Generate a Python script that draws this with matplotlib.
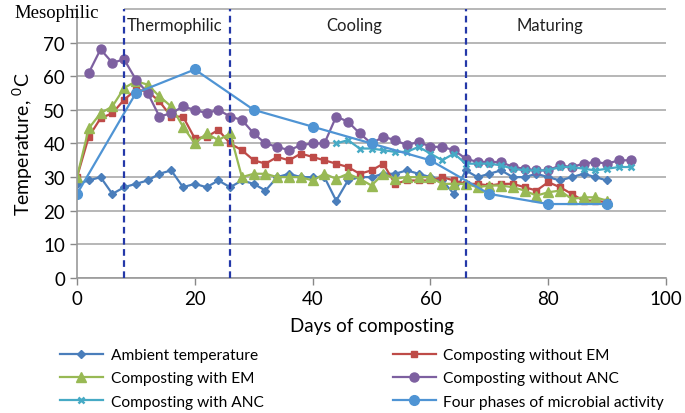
import matplotlib
matplotlib.use('Agg')
import matplotlib.pyplot as plt
import numpy as np

# temperature profiles
days_amb = [0, 2, 4, 6, 8, 10, 12, 14, 16, 18, 20, 22, 24, 26, 28, 30, 32, 34, 36, 38, 40, 42, 44, 46,
            48, 50, 52, 54, 56, 58, 60, 62, 64, 66, 68, 70, 72, 74, 76, 78, 80, 82, 84, 86, 88, 90]
ambient = [28, 29, 30, 25, 27, 28, 29, 31, 32, 27, 28, 27, 29, 27, 29, 28, 26, 30, 31, 30, 30, 30, 23, 29,
           30, 30, 31, 31, 32, 31, 30, 29, 25, 32, 30, 31, 32, 30, 30, 31, 30, 29, 30, 31, 30, 29]

days_em = [0, 2, 4, 6, 8, 10, 12, 14, 16, 18, 20, 22, 24, 26, 28, 30, 32, 34, 36, 38, 40, 42, 44, 46,
           48, 50, 52, 54, 56, 58, 60, 62, 64, 66, 68, 70, 72, 74, 76, 78, 80, 82, 84, 86, 88, 90]
without_em = [30, 42, 47.5, 49, 53, 56, 55.5, 52.5, 48, 48, 41.5, 42, 44, 40, 38, 35, 34, 36, 35, 37, 36, 35, 34, 33,
              31, 32, 34, 28, 29, 29, 29, 30, 29, 28, 28, 27.5, 28, 28, 27, 26, 28.5, 27, 25, 23, 23, 22.5]
with_em = [30, 44.5, 49, 51, 56.5, 58.5, 57.5, 54, 51, 45, 40, 43, 41, 43, 30, 31, 31, 30, 30, 30, 29, 31, 29.5, 31,
           29.5, 27.5, 31, 29.5, 30, 30, 30, 28, 28, 28, 27, 27.5, 27.5, 27, 26, 24.5, 25.5, 26, 23.5, 24, 24, 23]

days_noanc = [2, 4, 6, 8, 10, 12, 14, 16, 18, 20, 22, 24, 26, 28, 30, 32, 34, 36, 38, 40, 42, 44, 46, 48,
              50, 52, 54, 56, 58, 60, 62, 64, 66, 68, 70, 72, 74, 76, 78, 80, 82, 84, 86, 88, 90, 92, 94]
without_anc = [61, 68, 64, 65, 59, 55, 48, 49, 51, 50, 49, 50, 48, 47, 43, 40, 39, 38, 39.5, 40, 40, 48, 46.5, 43,
               40, 42, 41, 39.5, 40.5, 39, 39, 38, 35.5, 34.5, 34.5, 34.5, 33, 32.5, 32, 32, 33.5, 33, 34, 34.5, 34, 35, 35]

days_anc = [44, 46, 48, 50, 52, 54, 56, 58, 60, 62, 64, 66, 68, 70, 72, 74, 76, 78, 80, 82, 84, 86, 88, 90, 92, 94]
with_anc = [40, 41, 38.5, 38.5, 38, 37.5, 37.5, 39, 37, 35, 37, 34, 34, 34, 33.5, 32.5, 32, 32, 32, 33, 33, 32.5,
            32, 32.5, 33, 33]

days_phase = [0, 10, 20, 30, 40, 50, 60, 70, 80, 90]
phases = [25, 55, 62, 50, 45, 40, 35, 25, 22, 22]

phase_bounds = [8, 26, 66]
phase_names = ['Thermophilic', 'Cooling', 'Maturing']
phase_x = [8.4, 47, 80.3]

plt.rcParams['font.family'] = ['Lato', 'DejaVu Sans']
plt.rcParams['mathtext.fontset'] = 'custom'
plt.rcParams['mathtext.rm'] = 'Lato'

fig = plt.figure(figsize=(6.85, 4.14), dpi=100)
ax = fig.add_axes([0.1124, 0.326, 0.8599, 0.650])

lw = 1.6
h1, = ax.plot(days_amb, ambient, color='#4A7EBB', marker='D', ms=4.5, lw=lw, label='Ambient temperature')
h2, = ax.plot(days_em, without_em, color='#BE4B48', marker='s', ms=5, lw=lw, label='Composting without EM')
h3, = ax.plot(days_em, with_em, color='#98B954', marker='^', ms=6.5, lw=lw, label='Composting with EM')
h4, = ax.plot(days_noanc, without_anc, color='#7D60A0', marker='o', ms=6.5, lw=lw, label='Composting without ANC')
h5, = ax.plot(days_anc, with_anc, color='#46AAC5', marker='x', ms=5, mew=1.8, lw=lw, label='Composting with ANC')
h6, = ax.plot(days_phase, phases, color='#4F94D4', marker='o', ms=7, lw=lw, label='Four phases of microbial activity')

for b in phase_bounds:
    ax.axvline(b, color='#2438A8', ls=(0, (3, 2)), lw=1.6, zorder=5)
for name, xp in zip(phase_names, phase_x):
    ax.text(xp, 75.3, name, fontsize=12, ha='left' if name == 'Thermophilic' else 'center',
            va='center', color='#222222')
fig.text(0.0204, 0.967, 'Mesophilic', fontsize=13.5, family='Liberation Serif', ha='left', va='center')

ax.set_xlim(0, 100)
ax.set_ylim(0, 80)
ax.set_xticks(range(0, 101, 20))
ax.set_yticks(range(0, 81, 10))
ax.set_yticklabels([str(v) for v in range(0, 71, 10)] + [''])
ax.tick_params(labelsize=13.5, colors='#888888', labelcolor='black', length=5, width=1)
ax.tick_params(axis='y', direction='out')
ax.grid(axis='y', color='#AAAAAA', lw=1.2)
ax.get_ygridlines()[-1].set_visible(False)
ax.hlines(80, phase_bounds[0], 100, color='#AAAAAA', lw=1.2, clip_on=False, zorder=0.5)
ax.set_axisbelow(True)
for s in ['top', 'right']:
    ax.spines[s].set_visible(False)
for s in ['left', 'bottom']:
    ax.spines[s].set_color('#999999')
    ax.spines[s].set_linewidth(1.2)

ax.set_xlabel('Days of composting', fontsize=13.5, labelpad=7)
ax.set_ylabel('Temperature, $^{0}$C', fontsize=14, labelpad=6)

order = [h1, h3, h5, h2, h4, h6]
fig.legend(order, [h.get_label() for h in order],
           loc='upper left', bbox_to_anchor=(0.0785, 0.172), ncol=2, frameon=False,
           fontsize=11.2, handlelength=2.76, handletextpad=0.5, columnspacing=8.3,
           labelspacing=0.6, borderaxespad=0)

fig.savefig('out.png', dpi=100)
